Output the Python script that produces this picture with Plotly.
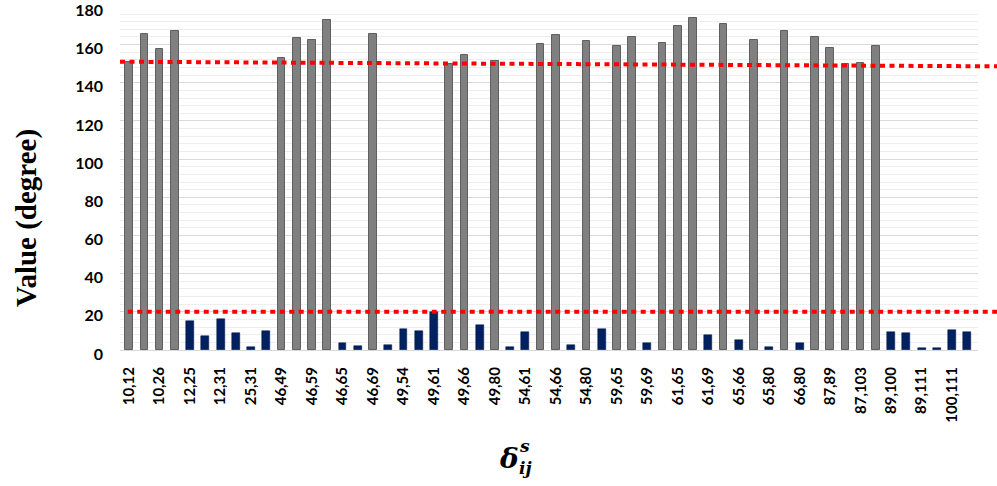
import plotly.graph_objects as go

# ---- data ----
tick_labels = ["10,12", "10,26", "12,25", "12,31", "25,31", "46,49", "46,59", "46,65",
               "46,69", "49,54", "49,61", "49,66", "49,80", "54,61", "54,66", "54,80",
               "59,65", "59,69", "61,65", "61,69", "65,66", "65,80", "66,80", "87,89",
               "87,103", "89,100", "89,111", "100,111"]

large_angles = [150.9, 165.7, 157.9, 166.9, None, None, None, None, None, None,
                153.2, 163.6, 162.6, 172.7, None, None, 165.5, None, None, None,
                None, 150.0, 154.4, None, 151.2, None, None, 160.5, 165.0, None,
                161.7, None, 159.2, 163.8, None, 160.6, 169.7, 174.1, None, 171.0,
                None, 162.4, None, 166.9, None, 163.8, 158.2, 149.7, 150.6, 159.2,
                None, None, None, None, None, None]

small_angles = [None, None, None, None, 15.3, 7.3, 16.4, 8.7, 1.7, 9.8,
                None, None, None, None, 3.8, 2.1, None, 2.6, 11.1, 9.9,
                20.0, None, None, 13.1, None, 1.7, 9.6, None, None, 2.5,
                None, 10.8, None, None, 3.7, None, None, None, 7.8, None,
                5.2, None, 1.7, None, 3.8, None, None, None, None, None,
                9.3, 8.7, 1.2, 1.2, 10.3, 9.6]

upper_threshold = (151.0, 148.6)
lower_threshold = 20.0

n = len(large_angles)
idx = list(range(n))
tick_positions = idx[::2]

fig = go.Figure()
fig.add_trace(go.Bar(x=idx, y=large_angles, width=0.5,
                     marker=dict(color="#808080", line=dict(color="#5f5f5f", width=1)),
                     showlegend=False))
fig.add_trace(go.Bar(x=idx, y=small_angles, width=0.52,
                     marker=dict(color="#002060", line=dict(color="#001440", width=0.5)),
                     showlegend=False))

red = "#ff0000"
fig.add_shape(type="line", xref="paper", yref="y", x0=0.0, x1=1.0222,
              y0=upper_threshold[0], y1=upper_threshold[1],
              line=dict(color=red, width=4, dash="5px,4.5px"), layer="above")
fig.add_shape(type="line", xref="paper", yref="y", x0=0.009, x1=1.0222,
              y0=lower_threshold, y1=lower_threshold,
              line=dict(color=red, width=4, dash="5px,4.5px"), layer="above")

# axis titles as annotations
fig.add_annotation(text="<b>Value (degree)</b>", xref="paper", yref="paper",
                   x=-0.1084, y=0.384, textangle=-90, showarrow=False,
                   font=dict(family="Liberation Serif", size=29, color="#000000"),
                   xanchor="center", yanchor="middle")
fig.add_annotation(text="<b><i>δ</i></b>", xref="paper", yref="paper",
                   x=0.4530, y=-0.314, showarrow=False,
                   font=dict(family="DejaVu Serif", size=28, color="#000000"),
                   xanchor="center", yanchor="middle")
fig.add_annotation(text="<b><i>s</i></b>", xref="paper", yref="paper",
                   x=0.4625, y=-0.278, showarrow=False,
                   font=dict(family="DejaVu Serif", size=17, color="#000000"),
                   xanchor="left", yanchor="middle")
fig.add_annotation(text="<b><i>ij</i></b>", xref="paper", yref="paper",
                   x=0.4625, y=-0.342, showarrow=False,
                   font=dict(family="DejaVu Serif", size=17, color="#000000"),
                   xanchor="left", yanchor="middle")

fig.update_layout(
    width=997, height=486,
    margin=dict(l=120, r=19, t=6, b=136),
    plot_bgcolor="#ffffff", paper_bgcolor="#ffffff",
    barmode="overlay", bargap=0,
    xaxis=dict(range=[-0.6, 55.7], tickmode="array", tickvals=tick_positions,
               ticktext=["<b>%s</b>" % t for t in tick_labels], tickangle=-90,
               tickfont=dict(family="Lato", size=15, color="#000000"),
               showgrid=False, zeroline=False, showline=True, linecolor="#d9d9d9",
               ticks="", ticklabelstandoff=10, automargin=False),
    yaxis=dict(range=[0, 180.2], tickmode="linear", tick0=0, dtick=20,
               tickfont=dict(family="Lato", size=16, color="#000000", weight="bold"),
               showgrid=True, gridcolor="#d9d9d9", gridwidth=1,
               minor=dict(dtick=4, showgrid=True, gridcolor="#eeeeee", gridwidth=1),
               zeroline=False, showline=False, ticks="", ticklabelstandoff=16,
               ticklabelshift=4, ticklabeloverflow="allow", automargin=False),
)

fig.write_html("out.html", config={"displayModeBar": False},
               post_script="document.body.style.margin='0';")
